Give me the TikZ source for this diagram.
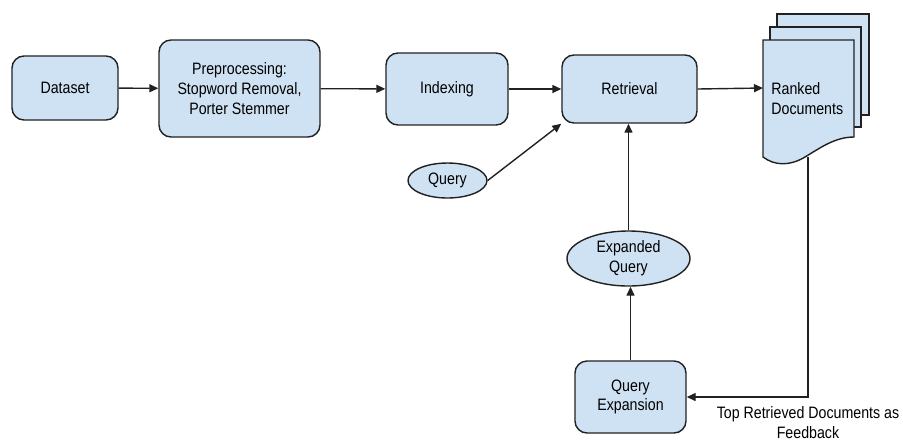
\documentclass[tikz,border=0pt]{standalone}
\usepackage{fontspec}
\setmainfont[FakeStretch=0.86]{Liberation Sans}
\usetikzlibrary{arrows.meta, shapes.geometric}
\definecolor{light}{rgb}{0.812, 0.886, 0.953}
\definecolor{edge}{rgb}{0.13, 0.13, 0.13}

\begin{document}
\begin{tikzpicture}[x=0.2mm, y=-0.2mm, font=\fontsize{9.4}{11.3}\selectfont,
  box/.style={draw=edge, line width=0.8pt, fill=light, rounded corners=2.4mm, align=center, inner sep=0pt},
  blob/.style={draw=edge, line width=0.8pt, fill=light, ellipse, align=center, inner sep=0pt},
  page/.style={draw=edge, line width=0.8pt, fill=light},
  arr/.style={draw=edge, line width=0.8pt, -{Triangle[length=1.8mm, width=1.6mm]}}]
\useasboundingbox (0, 0) rectangle (903, 443);
% top row
\node [box, minimum width=21.2mm, minimum height=12.8mm] (dataset) at (65, 88) {Dataset};
\node [box, minimum width=32.2mm, minimum height=19.4mm] (prep) at (239.5, 88.5) {Preprocessing:\\Stopword Removal,\\Porter Stemmer};
\node [box, minimum width=24.4mm, minimum height=14.4mm] (indexing) at (447, 89) {Indexing};
\node [box, minimum width=27mm, minimum height=13.6mm] (retrieval) at (629.5, 89) {Retrieval};
% ranked documents
\draw [page] (777, 14) rectangle (869, 115);
\draw [page] (770, 27) rectangle (861, 127);
\draw [page] (763, 40) -- (854, 40) -- (854, 137) .. controls (835, 137) and (820, 148) .. (805, 157) .. controls (790, 166) and (775, 166) .. (763, 157) -- cycle;
\node [anchor=west, align=left, inner sep=0pt] (ranked) at (771, 99) {Ranked\\Documents};
\coordinate (docin) at (763, 88);
\coordinate (docbot) at (808, 157);
% query side
\node [blob, minimum width=15.8mm, minimum height=7mm] (query) at (447.5, 180.5) {Query};
\node [blob, minimum width=24.6mm, minimum height=11mm] (expanded) at (628.5, 258.5) {Expanded\\Query};
\node [box, minimum width=22.2mm, minimum height=14.4mm] (expansion) at (630.5, 397) {Query\\Expansion};
\node [align=center, inner sep=0pt] (fblabel) at (808, 423) {Top Retrieved Documents as\\Feedback};
% arrows
\draw [arr] (dataset) -- (prep);
\draw [arr] (prep) -- (indexing);
\draw [arr] (indexing) -- (retrieval);
\draw [arr] (retrieval.east) -- (docin);
\draw [arr] (query.east) -- (retrieval.south west);
\draw [arr] (expanded.north) -- (expanded.north |- retrieval.south);
\draw [arr] (expansion.north) -- (expansion.north |- expanded.south);
\draw [arr] (docbot) |- (expansion.east);
\end{tikzpicture}
\end{document}
